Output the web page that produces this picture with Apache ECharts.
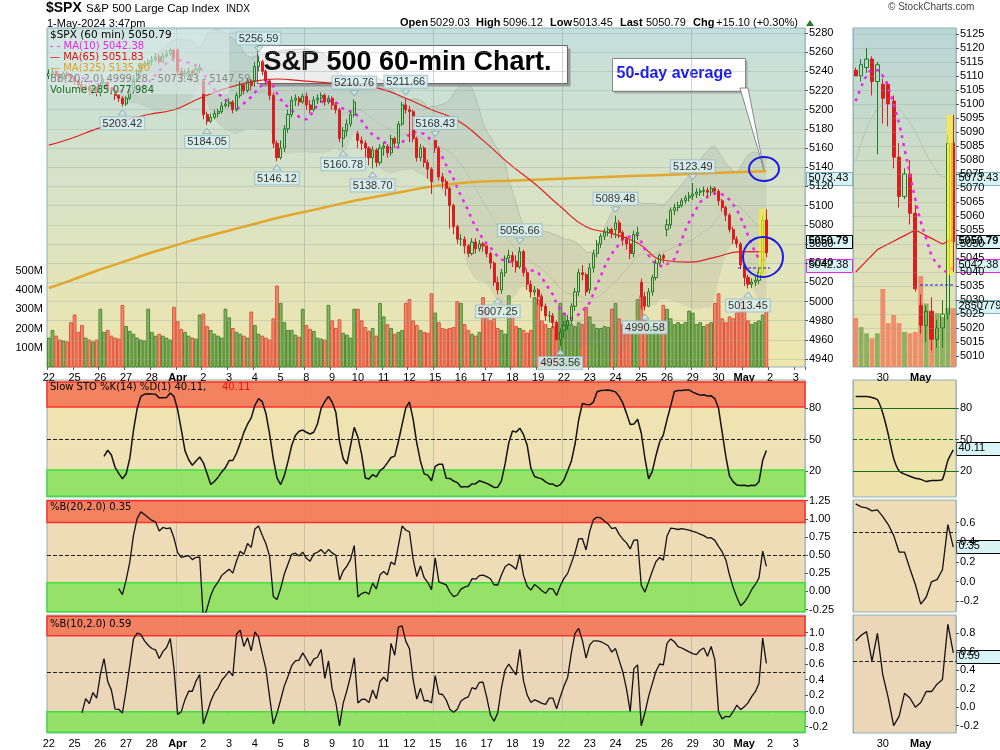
<!DOCTYPE html>
<html><head><meta charset="utf-8">
<script src="https://cdn.jsdelivr.net/npm/echarts@6/dist/echarts.min.js"></script>
<style>html,body{margin:0;padding:0;background:#fff}#c{width:1000px;height:750px}</style>
</head><body><div id="c"></div>
<script>
// ---------- DATA ----------
const dayLabels = ['22','25','26','27','28','Apr','2','3','4','5','8','9','10','11','12','15','16','17','18','19','22','23','24','25','26','29','30','May','2','3'];
const dayOpens = [5235,5234,5218,5206,5250,5262,5230,5206,5230,5150,5214,5212,5175,5160,5200,5168,5065,5058,5048,5012,4970,5012,5075,5020,5075,5110,5115,5038];
const closes = [
[5238,5240,5236,5234,5238,5236,5234],[5230,5226,5222,5224,5220,5222,5218],[5225,5228,5222,5220,5215,5212,5206],
[5212,5220,5232,5240,5246,5248,5250],[5252,5255,5250,5256,5258,5262,5254],[5240,5236,5238,5240,5238,5242,5244],
[5195,5188,5192,5196,5198,5204,5206],[5208,5200,5215,5226,5220,5230,5225],[5245,5250,5240,5230,5215,5165,5150],
[5160,5180,5195,5210,5212,5208,5214],[5205,5200,5210,5212,5215,5208,5212],[5205,5200,5170,5178,5185,5195,5208],
[5168,5165,5160,5150,5158,5145,5160],[5162,5155,5170,5165,5185,5205,5200],[5198,5170,5150,5160,5145,5138,5125],
[5160,5130,5125,5118,5100,5078,5065],[5065,5058,5050,5062,5055,5060,5058],[5050,5040,5020,5012,5030,5045,5048],
[5042,5036,5052,5030,5018,5010,5012],[5005,4995,4985,4985,4978,4960,4968],[4975,4980,4995,5010,5030,5028,5010],
[5035,5050,5060,5068,5072,5075,5072],[5082,5072,5065,5060,5050,5070,5072],[5005,4995,5010,5025,5040,5048,5045],
[5080,5095,5098,5100,5105,5108,5110],[5112,5114,5115,5116,5114,5118,5115],[5105,5098,5090,5075,5065,5060,5038],
[5025,5018,5020,5022,5030,5085,5050.79]];
const highs = [
[5242,5244,5241,5238,5240,5240,5238],[5236,5232,5228,5226,5226,5225,5224],[5229,5232,5230,5224,5222,5216,5214],
[5214,5224,5236,5243,5249,5251,5253],[5256,5259,5258,5260,5262,5264,5263],[5264,5244,5242,5244,5242,5246,5248],
[5232,5198,5196,5200,5201,5208,5210],[5212,5210,5218,5229,5228,5233,5232],[5250,5256.59,5252,5242,5232,5218,5168],
[5168,5184,5200,5214,5216,5214,5217],[5218,5210,5214,5216,5218,5217,5215],[5214,5208,5202,5182,5190,5198,5210.76],
[5178,5172,5168,5162,5162,5160,5164],[5166,5164,5174,5172,5188,5208,5211.66],[5204,5200,5172,5164,5162,5148,5140],
[5168.43,5162,5134,5128,5120,5102,5080],[5070,5068,5060,5066,5066,5064,5062],[5057,5052,5042,5026,5034,5048,5054],
[5052,5048,5056.66,5054,5034,5022,5016],[5014,5008,4998,4990,4988,4980,4972],[4980,4986,4998,5014,5034,5038,5030],
[5040,5054,5064,5071,5076,5078,5077],[5089.48,5085,5074,5068,5064,5074,5078],[5024,5010,5014,5028,5044,5050,5050],
[5086,5098,5102,5104,5108,5111,5114],[5123.49,5118,5118,5120,5119,5121,5120],[5117,5107,5100,5092,5078,5068,5062],
[5040,5028,5024,5026,5034,5090,5096.12]];
const lows = [
[5232,5234,5232,5230,5232,5232,5230],[5226,5222,5218,5218,5216,5216,5214],[5214,5222,5218,5216,5210,5208,5203.42],
[5204,5210,5218,5230,5238,5244,5246],[5246,5250,5247,5249,5254,5256,5250],[5236,5230,5232,5234,5234,5236,5238],
[5190,5184.05,5186,5190,5192,5196,5202],[5202,5196,5198,5212,5216,5218,5220],[5224,5240,5236,5226,5210,5160,5146.12],
[5148,5156,5176,5192,5204,5204,5206],[5200,5196,5198,5206,5208,5204,5206],[5200,5196,5166,5160.78,5172,5182,5192],
[5160,5158,5150,5142,5138.70,5140,5142],[5152,5150,5152,5160,5162,5183,5196],[5166,5166,5146,5146,5140,5128,5112],
[5155,5126,5118,5110,5076,5070,5060],[5058,5050,5046,5048,5050,5052,5052],[5046,5034,5016,5007.25,5008,5026,5040],
[5036,5030,5034,5026,5012,5004,5006],[4996,4990,4980,4978,4972,4960,4953.56],[4962,4970,4976,4990,5006,5022,5006],
[5008,5030,5046,5056,5064,5068,5066],[5066,5066,5058,5054,5044,5046,5064],[4992,4990.58,4994,5006,5022,5038,5040],
[5068,5076,5090,5094,5098,5102,5104],[5106,5108,5110,5110,5108,5110,5111],[5100,5094,5084,5072,5060,5056,5034],
[5016,5013.45,5014,5016,5018,5028,5046]];
const volumes = [ // millions
[150,190,160,140,135,130,230],[270,180,215,150,140,130,140],[300,180,190,160,150,145,320],
[210,185,170,150,140,135,300],[180,160,170,160,150,140,310],[235,195,180,160,150,145,270],
[275,210,190,170,160,150,300],[255,200,180,170,160,150,285],[215,170,160,150,140,250,420],
[330,230,190,190,165,155,300],[215,195,185,150,145,140,320],[240,200,245,175,165,150,300],
[300,240,205,185,200,160,330],[260,220,200,170,180,190,330],[350,240,215,190,180,175,380],
[280,230,200,195,200,205,340],[330,220,190,170,160,180,360],[300,240,250,200,190,170,370],
[270,210,200,190,175,190,360],[350,240,220,200,210,230,330],[280,240,220,210,230,220,310],
[260,220,200,200,210,205,300],[330,250,220,200,195,210,350],[370,240,230,210,200,220,320],
[300,250,220,230,220,230,290],[280,220,230,210,220,230,330],[380,250,230,260,250,280,350],
[340,240,220,230,240,270,285]];
const ma65Day = [5163,5170,5180,5188,5195,5200,5212,5222,5229,5232,5230,5228,5226,5222,5212,5200,5189,5168,5144,5123,5099,5078,5071,5061,5043,5041,5046,5052,5051.83];
const ma325Day = [5014,5022,5032,5041,5050,5058,5066,5073,5080,5087,5093,5099,5105,5110,5115,5120,5123,5125,5126,5127,5128,5129,5130,5131,5132,5133,5134,5135,5135.9];
const callouts = [[2,6,'5203.42','b'],[6,1,'5184.05','b'],[8,1,'5256.59','a'],[8,6,'5146.12','b'],[11,3,'5160.78','b'],[11,6,'5210.76','a'],[12,4,'5138.70','b'],[13,6,'5211.66','a'],[15,0,'5168.43','a'],[17,3,'5007.25','b'],[18,2,'5056.66','a'],[19,6,'4953.56','b'],[22,0,'5089.48','a'],[23,1,'4990.58','b'],[25,0,'5123.49','a'],[27,1,'5013.45','b']];
// right mini panel
const miniLabels = ['','','','','','30','','','','','','','May','','','','','',''];
const miniO = [5112,5110,5113,5116,5108,5107,5107,5101,5081,5067,5075,5061,5028,5021,5026,5016,5020,5025,5086];
const miniC = [5110,5114,5116,5108,5114,5102,5100,5081,5067,5075,5061,5034,5021,5026,5016,5020,5025,5086,5050.79];
const miniH = [5113,5116,5120,5117,5115,5109,5108,5103,5086,5077,5080,5064,5032,5028,5031,5023,5030,5089,5096.12];
const miniL = [5110,5108,5111,5103,5082,5093,5092,5077,5063,5066,5057,5033,5018,5015,5012,5013,5013,5023,5040];
const miniV = [255,207,175,150,175,405,228,270,228,182,175,182,472,330,287,280,260,306,306];
const miniMA10 = [5101,5106,5110,5112,5112,5110,5106,5100,5093,5084,5075,5066,5058,5052,5046,5043,5041,5040,5042.38];
const miniMA65 = [5040,5042,5044,5046,5048,5049,5050,5051,5052,5053,5054,5055,5054,5053,5052,5051,5050,5051,5051.83];
const miniBBmid = [5080,5086,5091,5095,5098,5100,5101,5100,5098,5096,5093,5090,5086,5082,5079,5076,5074,5074,5073.43];
const miniSTO = [91,91,91,90,88,75,55,32,20,17,15,13,12,10,11,11,12,30,40.11];
const miniB20 = [0.79,0.76,0.75,0.72,0.73,0.66,0.58,0.47,0.30,0.30,0.13,-0.03,-0.23,-0.16,0.0,0.02,0.12,0.58,0.35];
const miniB10 = [0.72,0.78,0.82,0.5,0.8,0.35,0.1,-0.2,-0.1,0.15,0.1,0.0,0.05,0.17,0.17,0.25,0.3,0.9,0.59];

// ---------- BUILD ----------
const N = 206;
const cats = []; for (let i=0;i<N;i++){ cats.push(i%7===0 ? dayLabels[i/7] : ''+i); }
const C=[],O=[],H=[],L=[],V=[];
closes.forEach((d,di)=>d.forEach((c,h)=>{ O.push(h===0?dayOpens[di]:closes[di][h-1]); C.push(c); H.push(highs[di][h]); L.push(lows[di][h]); V.push(volumes[di][h]); }));
const n = C.length;
const candle = C.map((c,i)=>[O[i],c,L[i],H[i]]);
const volData = V.map((v,i)=>({value:v, itemStyle:{color: (i===0||C[i]>=C[i-1])?'rgba(110,160,70,0.75)':'rgba(240,120,90,0.8)', borderColor:(i===0||C[i]>=C[i-1])?'#4a8a30':'#e0503a'}}));
function sma(arr,p){return arr.map((_,i)=>{if(i<p-1)return null;let s=0;for(let k=i-p+1;k<=i;k++)s+=arr[k];return s/p;});}
function bb(arr,p){const m=sma(arr,p);return arr.map((_,i)=>{if(m[i]==null)return null;let s=0;for(let k=i-p+1;k<=i;k++)s+=(arr[k]-m[i])**2;const sd=Math.sqrt(s/p);return [m[i]-2*sd,m[i],m[i]+2*sd];});}
const ma10 = sma(C,10);
const daySeries = (arr)=>{const out=new Array(n).fill(null); out[0]=arr[0]; for(let d=0;d<28;d++) out[d*7+6]=arr[d+1]; return out;};
const ma65 = daySeries(ma65Day), ma325 = daySeries(ma325Day);
const b20 = bb(C,20), b10 = bb(C,10);
const bbLow = b20.map(b=>b?b[0]:null), bbBand = b20.map(b=>b?b[2]-b[0]:null), bbMid=b20.map(b=>b?b[1]:null);
const pctB20 = C.map((c,i)=>b20[i]?(c-b20[i][0])/(b20[i][2]-b20[i][0]):null);
const pctB10 = C.map((c,i)=>b10[i]?(c-b10[i][0])/(b10[i][2]-b10[i][0]):null);
const fastK = C.map((c,i)=>{if(i<13)return null;let hh=-1e9,ll=1e9;for(let k=i-13;k<=i;k++){hh=Math.max(hh,H[k]);ll=Math.min(ll,L[k]);}return (c-ll)/(hh-ll)*100;});
const slowK = fastK.map((_,i)=>(i<15)?null:(fastK[i]+fastK[i-1]+fastK[i-2])/3);
const calloutData = callouts.map(([d,h,t,p])=>{const i=d*7+h;return {value:[i, p==='a'?H[i]:L[i]], t, p};});

const priceTicks=[];for(let v=4940;v<=5280;v+=20)priceTicks.push(v);
const miniTicks=[];for(let v=5010;v<=5125;v+=5)miniTicks.push(v);
const F='Liberation Sans';
const axLbl={color:'#000',fontFamily:F,fontSize:11};
const bg=(a,b)=>({type:'linear',x:0,y:0,x2:0,y2:1,colorStops:[{offset:0,color:a},{offset:1,color:b}]});

const grids=[
 {left:47,right:195,top:28,height:339,show:true,backgroundColor:bg('#c3dfdc','#eee6ae'),borderColor:'#8fb0b8'},
 {left:47,right:195,top:28,height:339},
 {left:47,right:195,top:380,height:117,show:true,backgroundColor:bg('#efe5ad','#eedfb8'),borderColor:'#8fb0b8'},
 {left:47,right:195,top:500,height:112,show:true,backgroundColor:'#eedcb6',borderColor:'#8fb0b8'},
 {left:47,right:195,top:615,height:118,show:true,backgroundColor:'#ecd6b8',borderColor:'#8fb0b8'},
 {left:853,right:44,top:28,height:339,show:true,backgroundColor:bg('#b9d6d6','#ece6ae'),borderColor:'#8fb0b8'},
 {left:853,right:44,top:28,height:339},
 {left:853,right:44,top:380,height:117,show:true,backgroundColor:'#efe3ad',borderColor:'#8fb0b8'},
 {left:853,right:44,top:500,height:112,show:true,backgroundColor:'#eedcb6',borderColor:'#8fb0b8'},
 {left:853,right:44,top:615,height:118,show:true,backgroundColor:'#ecd6b8',borderColor:'#8fb0b8'},
];
const dayTickInt=(i)=>i%7===0;
const isMonth=(s)=>s==='Apr'||s==='May';
const mkX=(g,showLbl)=>({type:'category',gridIndex:g,data:cats,boundaryGap:true,
  axisLine:{show:false},axisTick:{show:showLbl,interval:dayTickInt,length:3,lineStyle:{color:'#666'}},
  axisLabel:{show:showLbl,interval:dayTickInt,formatter:(v,i)=>{if(i%7)return '';const s=dayLabels[i/7];return isMonth(s)?'{b|'+s+'}':s;},...axLbl,margin:5,rich:{b:{fontWeight:'bold',fontFamily:F,fontSize:11}}},
  splitLine:{show:(g===0||g>=2),interval:(i)=>i%35===0&&i>0,lineStyle:{color:'rgba(140,160,160,0.45)'}}});
const mkMiniX=(g,showLbl)=>({type:'category',gridIndex:g,data:miniLabels.map((l,i)=>l||(''+i)),boundaryGap:true,axisLine:{show:false},
  axisTick:{show:false},axisLabel:{show:showLbl,interval:(i)=>miniLabels[i]!=='',formatter:(v,i)=>isMonth(miniLabels[i])?'{b|'+miniLabels[i]+'}':miniLabels[i],...axLbl,margin:5,rich:{b:{fontWeight:'bold',fontFamily:F,fontSize:11}}},
  splitLine:{show:g===5||g>=7,interval:(i)=>i===12,lineStyle:{color:'rgba(140,160,160,0.55)'}}});
const xAxes=[mkX(0,false),mkX(1,true),mkX(2,false),mkX(3,false),mkX(4,true),mkMiniX(5,false),mkMiniX(6,true),mkMiniX(7,false),mkMiniX(8,false),mkMiniX(9,true)];
const rightAx=(g,min,max,vals,fmt)=>({type:'value',gridIndex:g,position:'right',min,max,
  axisLine:{show:false},axisTick:{show:true,customValues:vals,length:3,lineStyle:{color:'#555'}},
  axisLabel:{customValues:vals,...axLbl,margin:4,formatter:fmt||(v=>v)},splitLine:{show:false}});
const yAxes=[rightAx(0,4931.66,5285.21,priceTicks)];
yAxes.push({type:'value',gridIndex:1,position:'left',min:0,max:1760,axisLine:{show:false},axisTick:{show:false},
  axisLabel:{customValues:[100,200,300,400,500],formatter:v=>v+'M',...axLbl,margin:4},splitLine:{show:false}});
yAxes.push(rightAx(2,-4.8,106.7,[20,50,80]));
yAxes.push(rightAx(3,-0.284,1.26,[-0.25,0,0.25,0.5,0.75,1,1.25],v=>v.toFixed(2)));
yAxes.push(rightAx(4,-0.28,1.226,[-0.2,0,0.2,0.4,0.6,0.8,1.0],v=>v.toFixed(1)));
yAxes.push(rightAx(5,5006.1,5127.1,miniTicks));
yAxes.push({type:'value',gridIndex:6,min:0,max:1760,show:false});
yAxes.push(rightAx(7,-4.8,106.7,[20,50,80]));
yAxes.push(rightAx(8,-0.31,0.83,[-0.2,0,0.2,0.4,0.6],v=>v.toFixed(1)));
yAxes.push(rightAx(9,-0.28,1.0,[-0.2,0,0.2,0.4,0.6,0.8],v=>v.toFixed(1)));

const hLines=(vals,color,type)=>({silent:true,symbol:'none',label:{show:false},lineStyle:{color,type,width:1},data:vals.map(v=>({yAxis:v}))});
const band=(a,b,fill,border)=>[{yAxis:a,itemStyle:{color:fill,borderColor:border,borderWidth:1.5}},{yAxis:b}];
const RED='rgba(243,120,88,0.9)',REDB='#ff3030',GRN='rgba(140,225,95,0.9)',GRNB='#3ee03e';
const candleStyle={color:'rgba(255,255,255,0)',borderColor:'#1e7b1e',color0:'#d81e1e',borderColor0:'#d81e1e',borderWidth:1};

const series=[
 {type:'bar',xAxisIndex:1,yAxisIndex:1,data:volData,barWidth:'75%',z:1},
 {type:'line',xAxisIndex:0,yAxisIndex:0,data:bbLow,stack:'bb',symbol:'none',lineStyle:{width:0},z:2,
  markLine:hLines(priceTicks,'rgba(150,165,160,0.35)','solid')},
 {type:'line',xAxisIndex:0,yAxisIndex:0,data:bbBand,stack:'bb',symbol:'none',lineStyle:{width:1,color:'rgba(140,140,140,0.35)'},areaStyle:{color:'rgba(130,130,130,0.2)'},z:2},
 {type:'line',xAxisIndex:0,yAxisIndex:0,data:bbMid,symbol:'none',lineStyle:{width:1,color:'rgba(140,140,140,0.5)',type:'dotted'},z:2},
 {type:'line',xAxisIndex:0,yAxisIndex:0,data:ma325,connectNulls:true,symbol:'none',smooth:true,lineStyle:{width:2.5,color:'#e3a82b'},z:3},
 {type:'line',xAxisIndex:0,yAxisIndex:0,data:ma65,connectNulls:true,symbol:'none',smooth:true,lineStyle:{width:1.2,color:'#e02020'},z:3},
 {type:'line',xAxisIndex:0,yAxisIndex:0,data:ma10,symbol:'none',lineStyle:{width:2.5,color:'#ee22ee',type:[3,5]},z:4},
 {type:'candlestick',xAxisIndex:0,yAxisIndex:0,data:candle,barWidth:'70%',itemStyle:candleStyle,z:5},
 {type:'scatter',xAxisIndex:0,yAxisIndex:0,symbol:'triangle',symbolSize:[8,5],z:6,
  itemStyle:{color:'#d5eeef',borderColor:'#8ab'},
  label:{show:true,formatter:p=>p.data.t,backgroundColor:'#d8f0f2',borderColor:'#9bbcc4',borderWidth:1,padding:[1,2,0,2],color:'#000',fontFamily:F,fontSize:11},
  data:calloutData.map(d=>({value:d.value,t:d.t,symbolRotate:d.p==='a'?180:0,symbolOffset:[0,d.p==='a'?-6:6],
    label:{position:d.p==='a'?'top':'bottom',distance:2}}))},
 {type:'line',xAxisIndex:2,yAxisIndex:2,data:slowK,symbol:'none',lineStyle:{color:'#111',width:1.5},
  markArea:{silent:true,data:[band(81,104.9,RED,REDB),band(-4.2,21,GRN,GRNB)]},markLine:hLines([50],'#222','dashed')},
 {type:'line',xAxisIndex:3,yAxisIndex:3,data:pctB20,symbol:'none',lineStyle:{color:'#111',width:1.3},
  markArea:{silent:true,data:[band(0.95,1.25,RED,REDB),band(-0.28,0.12,GRN,GRNB)]},markLine:hLines([0.5],'#222','dashed')},
 {type:'line',xAxisIndex:4,yAxisIndex:4,data:pctB10,symbol:'none',lineStyle:{color:'#111',width:1.3},
  markArea:{silent:true,data:[band(0.96,1.21,RED,REDB),band(-0.27,-0.01,GRN,GRNB)]},markLine:hLines([0.5],'#222','dashed')},
 {type:'bar',xAxisIndex:6,yAxisIndex:6,data:miniV.map((v,i)=>({value:v,itemStyle:{color:miniC[i]>=miniO[i]?'rgba(110,160,70,0.75)':'rgba(240,120,90,0.8)'}})),barWidth:'90%'},
 {type:'line',xAxisIndex:5,yAxisIndex:5,data:miniBBmid,symbol:'none',smooth:true,lineStyle:{width:1,color:'rgba(140,140,140,0.6)',type:'dotted'},markLine:hLines(miniTicks,'rgba(150,165,160,0.3)','solid')},
 {type:'line',xAxisIndex:5,yAxisIndex:5,data:miniMA65,symbol:'none',lineStyle:{width:1.2,color:'#e02020'}},
 {type:'line',xAxisIndex:5,yAxisIndex:5,data:miniMA10,symbol:'none',smooth:true,lineStyle:{width:2.5,color:'#ee22ee',type:[3,5]}},
 {type:'candlestick',xAxisIndex:5,yAxisIndex:5,data:miniO.map((o,i)=>[o,miniC[i],miniL[i],miniH[i]]),barWidth:'70%',itemStyle:candleStyle},
 {type:'line',xAxisIndex:7,yAxisIndex:7,data:miniSTO,symbol:'none',smooth:0.2,lineStyle:{color:'#111',width:1.5},
  markLine:{silent:true,symbol:'none',label:{show:false},data:[{yAxis:80,lineStyle:{color:'#1a6a1a',type:'solid'}},{yAxis:20,lineStyle:{color:'#1a6a1a',type:'solid'}},{yAxis:50,lineStyle:{color:'#1a6a1a',type:'dashed'}}]}},
 {type:'line',xAxisIndex:8,yAxisIndex:8,data:miniB20,symbol:'none',lineStyle:{color:'#111',width:1.3},markLine:hLines([0.5],'#222','dashed')},
 {type:'line',xAxisIndex:9,yAxisIndex:9,data:miniB10,symbol:'none',lineStyle:{color:'#111',width:1.3},markLine:hLines([0.5],'#222','dashed')},
];

const txt=(x,y,t,style)=>({type:'text',left:x,top:y,z:100,style:Object.assign({text:t,fontFamily:F,fontSize:11,fill:'#000'},style||{})});
const valBox=(x,y,t,border,bold)=>({type:'group',left:x,top:y,z:100,children:[
  {type:'rect',shape:{x:0,y:0,width:46,height:13},style:{fill:'#d8f4f6',stroke:border,lineWidth:1}},
  {type:'text',left:2,top:0,style:{text:t,fontFamily:F,fontSize:11,fontWeight:bold?'bold':'normal',fill:'#000'}}]});
const graphic=[
 txt(46,1,'$SPX',{fontSize:14,fontWeight:'bold'}),
 txt(86,3,'S&P 500 Large Cap Index',{fontSize:11.5}),
 txt(226,4,'INDX',{fontSize:10}),
 txt(47,18,'1-May-2024 3:47pm',{fontSize:11}),
 txt(400,17,'Open',{fontWeight:'bold'}), txt(430,17,'5029.03'),
 txt(476,17,'High',{fontWeight:'bold'}), txt(503,17,'5096.12'),
 txt(550,17,'Low',{fontWeight:'bold'}), txt(573,17,'5013.45'),
 txt(620,17,'Last',{fontWeight:'bold'}), txt(646,17,'5050.79'),
 txt(693,17,'Chg',{fontWeight:'bold'}), txt(716,17,'+15.10 (+0.30%)'),
 {type:'polygon',z:100,shape:{points:[[806,26],[810,20],[814,26]]},style:{fill:'#2a7a2a'}},
 txt(888,2,'© StockCharts.com',{fontSize:10,fill:'#444'}),
 {type:'rect',z:99,shape:{x:49,y:30,width:180,height:64},style:{fill:'rgba(220,235,232,0.6)'}},
 txt(50,30,'$SPX (60 min) 5050.79',{fontFamily:'DejaVu Sans',fontSize:10.5}),
 txt(50,41,'- - MA(10) 5042.38',{fontFamily:'DejaVu Sans',fontSize:10,fill:'#ee22ee'}),
 txt(50,52,'— MA(65) 5051.83',{fontFamily:'DejaVu Sans',fontSize:10,fill:'#e01010'}),
 txt(50,63,'— MA(325) 5135.90',{fontFamily:'DejaVu Sans',fontSize:10,fill:'#e0a020'}),
 txt(50,74,'BB(20,2.0) 4999.28 - 5073.43 - 5147.59',{fontFamily:'DejaVu Sans',fontSize:10,fill:'#888'}),
 txt(50,85,'Volume 285,077,984',{fontFamily:'DejaVu Sans',fontSize:10,fill:'#1a6a1a'}),
 txt(50,382,'Slow STO %K(14) %D(1) 40.11,',{fontFamily:'DejaVu Sans',fontSize:10}),
 txt(222,382,'40.11',{fontFamily:'DejaVu Sans',fontSize:10,fill:'#ee1111'}),
 txt(50,502,'%B(20,2.0) 0.35',{fontFamily:'DejaVu Sans',fontSize:10}),
 txt(50,619,'%B(10,2.0) 0.59',{fontFamily:'DejaVu Sans',fontSize:10}),
 {type:'group',left:257,top:45,z:120,children:[
   {type:'rect',shape:{x:3,y:3,width:310,height:38},style:{fill:'#999'}},
   {type:'rect',shape:{x:0,y:0,width:310,height:38},style:{fill:'#fff',stroke:'#666'}},
   {type:'text',left:6,top:4,style:{text:'S&P 500 60-min Chart.',fontFamily:F,fontSize:27,fontWeight:'bold',fill:'#000'}}]},
 {type:'polygon',z:119,shape:{points:[[740,88],[748,88],[764,170]]},style:{fill:'#fff',stroke:'#888'}},
 {type:'group',left:612,top:58,z:120,children:[
   {type:'rect',shape:{x:2,y:2,width:133,height:33},style:{fill:'#aaa'}},
   {type:'rect',shape:{x:0,y:0,width:133,height:33},style:{fill:'#fff',stroke:'#888'}},
   {type:'text',left:4,top:7,style:{text:'50-day average',fontFamily:F,fontSize:16,fontWeight:'bold',fill:'#1a1ae6'}}]},
 {type:'ellipse',z:121,shape:{cx:764,cy:169,rx:15,ry:12},style:{fill:'none',stroke:'#1a1ae6',lineWidth:2}},
 {type:'circle',z:121,shape:{cx:763,cy:257,r:20},style:{fill:'none',stroke:'#1a1ae6',lineWidth:2}},
 {type:'line',z:121,shape:{x1:738,y1:268,x2:770,y2:268},style:{stroke:'#1a1ae6',lineDash:[3,2]}},
 {type:'rect',z:6,shape:{x:759,y:209,width:6,height:66},style:{fill:'rgba(255,240,40,0.7)'}},
 {type:'rect',z:6,shape:{x:947,y:115,width:6,height:160},style:{fill:'rgba(255,240,40,0.7)'}},
 {type:'line',z:121,shape:{x1:920,y1:285,x2:953,y2:285},style:{stroke:'#1a1ae6',lineDash:[3,2]}},
 valBox(806,172,'5073.43','#7fb2c0'), valBox(806,235,'5050.79','#000',true), valBox(806,259,'5042.38','#ee22ee'),
 valBox(956,172,'5073.43','#7fb2c0'), valBox(956,235,'5050.79','#000',true), valBox(956,259,'5042.38','#ee22ee'),
 valBox(956,300,'2850779','#7fb2c0'),
 valBox(956,442,'40.11','#000'), valBox(956,540,'0.35','#000'), valBox(956,650,'0.59','#000'),
];

const chart=echarts.init(document.getElementById('c'),null,{renderer:'canvas'});
chart.setOption({animation:false,backgroundColor:'#fff',grid:grids,xAxis:xAxes,yAxis:yAxes,series,graphic});
</script></body></html>
